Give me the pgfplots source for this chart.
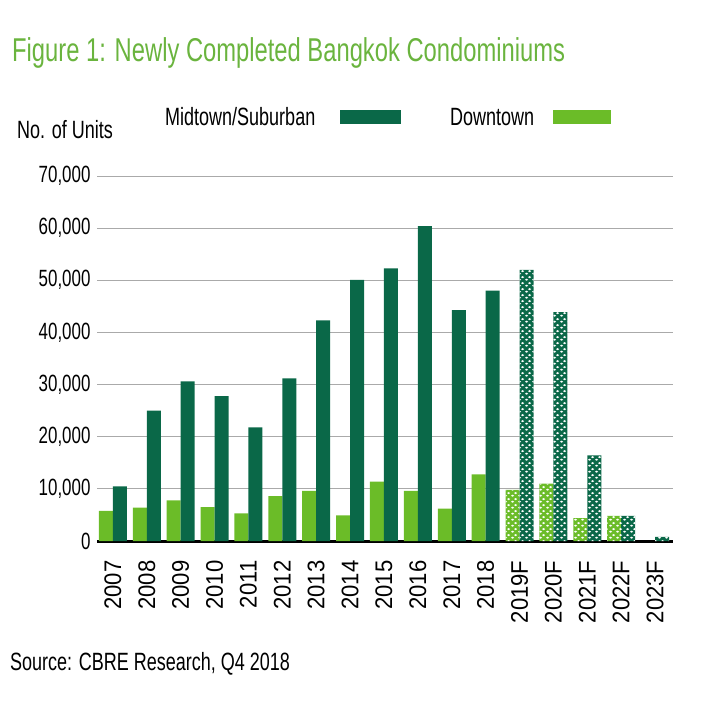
\documentclass[border=0pt]{standalone}
\usepackage{pgfplots}
\pgfplotsset{compat=1.18}
\usepackage{fontspec}
\setmainfont{Liberation Sans}[FakeStretch=0.72]
\newfontfamily\widefont{Liberation Sans}[FakeStretch=0.92]
\usetikzlibrary{patterns.meta}
\definecolor{dkgreen}{RGB}{10,104,72}
\definecolor{ltgreen}{RGB}{107,188,40}
\definecolor{titlegreen}{RGB}{106,180,62}
\definecolor{gridgray}{RGB}{170,170,170}
\pgfdeclarepattern{
  name=chain, type=uncolored,
  bottom left={\pgfpoint{0pt}{0pt}}, top right={\pgfpoint{7pt}{6pt}},
  tile size={\pgfpoint{7pt}{6pt}},
  code={
    \pgfpathellipse{\pgfpoint{1.75pt}{1.5pt}}{\pgfpoint{1.8pt}{0pt}}{\pgfpoint{0pt}{1.2pt}}
    \pgfpathellipse{\pgfpoint{5.25pt}{4.5pt}}{\pgfpoint{1.8pt}{0pt}}{\pgfpoint{0pt}{1.2pt}}
    \pgfusepath{fill}
  }
}
\begin{document}
\begin{tikzpicture}
\path[use as bounding box] (0pt,0pt) rectangle (723pt,-701pt);
\begin{axis}[
  at={(97pt,-541pt)}, anchor=south west,
  scale only axis, width=576pt, height=365pt,
  xmin=-0.47, xmax=16.53, ymin=0, ymax=70000,
  axis x line*=bottom, axis y line*=left,
  x axis line style={line width=3pt, black, -},
  y axis line style={draw=none},
  major tick length=0pt,
  ymajorgrids, grid style={gridgray, line width=0.8pt},
  ytick={0,10000,...,70000},
  scaled y ticks=false,
  /pgf/number format/.cd, 1000 sep={,}, assume math mode=true,
  /pgfplots/.cd,
  yticklabel style={font=\fontsize{23.5}{25}\selectfont, xshift=-3pt},
  xtick={0,...,16},
  xticklabels={2007,2008,2009,2010,2011,2012,2013,2014,2015,2016,2017,2018,2019F,2020F,2021F,2022F,2023F},
  xticklabel style={font=\widefont\fontsize{24}{26}\selectfont, rotate=90, anchor=east, xshift=-16pt},
  clip=false,
]
\addplot[ybar, bar width=14pt, bar shift=-7pt, fill=ltgreen, draw=none] coordinates {
(0,5800) (1,6400) (2,7800) (3,6500) (4,5300) (5,8600) (6,9600) (7,4900) (8,11400) (9,9600) (10,6200) (11,12800)};
\addplot[ybar, bar width=14pt, bar shift=7pt, fill=dkgreen, draw=none] coordinates {
(0,10500) (1,25000) (2,30600) (3,27800) (4,21800) (5,31200) (6,42300) (7,50100) (8,52300) (9,60400) (10,44300) (11,48000)};
\addplot[ybar, bar width=14pt, bar shift=-7pt, fill=ltgreen, draw=none, postaction={pattern=chain, pattern color=white}] coordinates {
(12,9800) (13,11000) (14,4400) (15,4800)};
\addplot[ybar, bar width=14pt, bar shift=7pt, fill=dkgreen, draw=none, postaction={pattern=chain, pattern color=white}] coordinates {
(12,52000) (13,43900) (14,16400) (15,4800) (16,800)};
\end{axis}
\node[anchor=base west, inner sep=0pt, text=titlegreen, font=\fontsize{33}{36}\selectfont] at (12pt,-62pt) {Figure 1: Newly Completed Bangkok Condominiums};
\node[anchor=base west, inner sep=0pt, font=\fontsize{25}{28}\selectfont] at (17pt,-138pt) {No. of Units};
\node[anchor=base west, inner sep=0pt, font=\fontsize{25}{28}\selectfont] at (165pt,-125pt) {Midtown/Suburban};
\fill[dkgreen] (340pt,-110pt) rectangle (401pt,-124pt);
\node[anchor=base west, inner sep=0pt, font=\fontsize{25}{28}\selectfont] at (450pt,-125pt) {Downtown};
\fill[ltgreen] (553pt,-110pt) rectangle (611pt,-124pt);
\node[anchor=base west, inner sep=0pt, font=\fontsize{25}{28}\selectfont] at (10pt,-670pt) {Source: CBRE Research, Q4 2018};
\end{tikzpicture}
\end{document}
